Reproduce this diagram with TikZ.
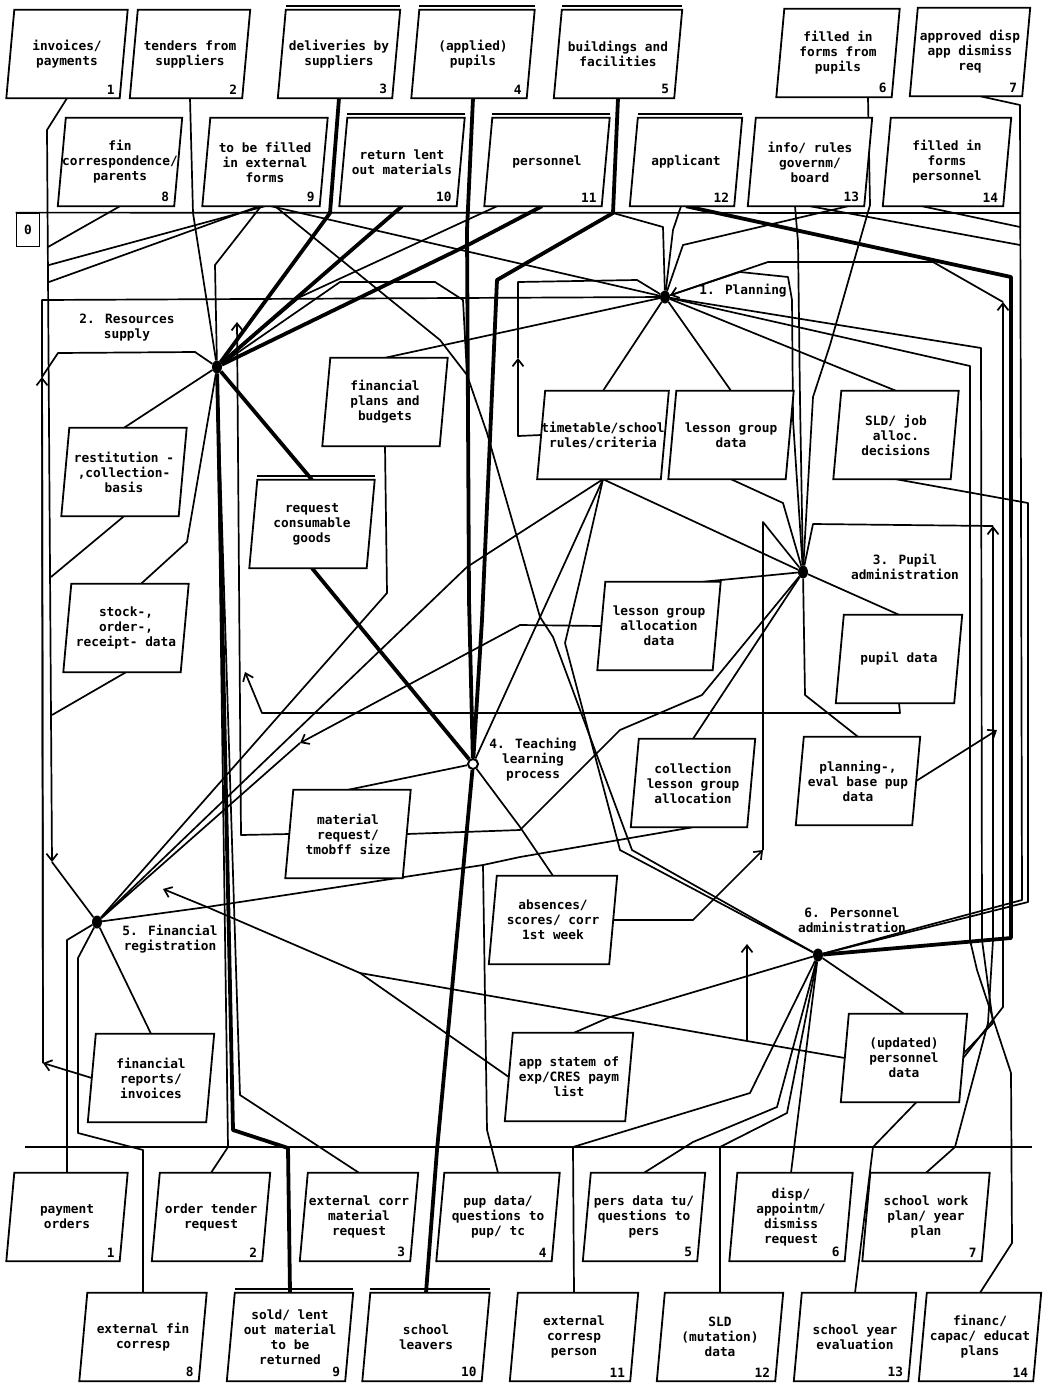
\documentclass[tikz,border=0pt]{standalone}
\usepackage{fontspec}
\newfontfamily\dfont{DejaVu Sans Mono}
\usetikzlibrary{arrows.meta}
\pgfdeclarelayer{bg}
\pgfdeclarelayer{boxes}
\pgfsetlayers{bg,boxes,main}
\tikzset{
  lbl/.style={font=\dfont\bfseries\fontsize{12.8}{15}\selectfont, align=center, inner sep=0pt},
  bx/.style={lbl, minimum height=88pt},
  ln/.style={line width=1.7pt, line join=round},
  thk/.style={line width=3.8pt, line join=round},
  arr/.style={-{Straight Barb[length=7pt,width=11pt]}},
  pdot/.style={ellipse, fill=black, inner sep=0pt, minimum width=10pt, minimum height=13pt},
  odot/.style={circle, draw=black, fill=white, line width=2pt, inner sep=0pt, minimum size=10pt},
}
\usetikzlibrary{shapes.geometric}
\newcommand\pbx[6]{%
  \node[bx, minimum width=#4pt] (#1) at (#2,#3) {#5};
  \begin{pgfonlayer}{boxes}
  \filldraw[fill=white, line width=1.8pt] ([xshift=4pt]#1.north west) -- ([xshift=4pt]#1.north east) -- ([xshift=-4pt]#1.south east) -- ([xshift=-4pt]#1.south west) -- cycle;
  \end{pgfonlayer}
  \node[lbl, anchor=south east] (#1n) at ([xshift=-9pt,yshift=4pt]#1.south east) {#6};
}
\newcommand\dtop[1]{\draw[line width=1.8pt] ([xshift=4pt,yshift=3.5pt]#1.north west) -- ([xshift=4pt,yshift=3.5pt]#1.north east);}
\begin{document}
\begin{tikzpicture}[x=1pt, y=-1pt]
\useasboundingbox (0,0) rectangle (1042,1387);
\begin{pgfonlayer}{bg}
\fill[white] (0,0) rectangle (1042,1387);
\end{pgfonlayer}

% top rows
\pbx{t1}{67}{54}{113}{invoices/\\payments}{1}
\pbx{t2}{190}{54}{112}{tenders from\\suppliers}{2}
\pbx{t3}{339}{54}{114}{deliveries by\\suppliers}{3}
\pbx{t4}{473}{54}{115}{(applied)\\pupils}{4}
\pbx{t5}{618}{54}{120}{buildings and\\facilities}{5}
\pbx{t6}{838}{53}{115}{filled in\\forms from\\pupils}{6}
\pbx{t7}{970}{52}{112}{approved disp\\app dismiss\\req}{7}
\pbx{t8}{120}{162}{116}{fin\\correspondence/\\parents}{8}
\pbx{t9}{265}{162}{117}{to be filled\\in external\\forms}{9}
\pbx{t10}{402}{162}{117}{return lent\\out materials}{10}
\pbx{t11}{547}{162}{117}{personnel}{11}
\pbx{t12}{686}{162}{104}{applicant}{12}
\pbx{t13}{810}{162}{116}{info/ rules\\governm/\\board}{13}
\pbx{t14}{947}{162}{120}{filled in\\forms\\personnel}{14}
\dtop{t3}\dtop{t4}\dtop{t5}\dtop{t10}\dtop{t11}\dtop{t12}

% middle data stores
\pbx{fpb}{385}{402}{117}{financial\\plans and\\budgets}{}
\pbx{rcb}{124}{472}{117}{restitution -\\,collection-\\basis}{}
\pbx{rcg}{312}{524}{117}{request\\consumable\\goods}{}
\pbx{sor}{126}{628}{117}{stock-,\\order-,\\receipt- data}{}
\pbx{mrq}{348}{834}{117}{material\\request/\\tmobff size}{}
\pbx{ttb}{603}{435}{117}{timetable/school\\rules/criteria}{}
\pbx{lgd}{731}{435}{117}{lesson group\\data}{}
\pbx{sld}{896}{435}{117}{SLD/ job\\alloc.\\decisions}{}
\pbx{lga}{659}{626}{115}{lesson group\\allocation\\data}{}
\pbx{pd}{899}{659}{118}{pupil data}{}
\pbx{clg}{693}{783}{116}{collection\\lesson group\\allocation}{}
\pbx{pev}{858}{781}{116}{planning-,\\eval base pup\\data}{}
\pbx{abs}{553}{920}{120}{absences/\\scores/ corr\\1st week}{}
\pbx{fri}{151}{1078}{118}{financial\\reports/\\invoices}{}
\pbx{aps}{569}{1077}{120}{app statem of\\exp/CRES paym\\list}{}
\pbx{upd}{904}{1058}{118}{(updated)\\personnel\\data}{}
\dtop{rcg}

% bottom rows
\pbx{b1}{67}{1217}{113}{payment\\orders}{1}
\pbx{b2}{211}{1217}{110}{order tender\\request}{2}
\pbx{b3}{359}{1217}{110}{external corr\\material\\request}{3}
\pbx{b4}{498}{1217}{115}{pup data/\\questions to\\pup/ tc}{4}
\pbx{b5}{644}{1217}{114}{pers data tu/\\questions to\\pers}{5}
\pbx{b6}{791}{1217}{115}{disp/\\appointm/\\dismiss\\request}{6}
\pbx{b7}{926}{1217}{119}{school work\\plan/ year\\plan}{7}
\pbx{b8}{143}{1337}{119}{external fin\\corresp}{8}
\pbx{b9}{290}{1337}{118}{sold/ lent\\out material\\to be\\returned}{9}
\pbx{b10}{426}{1337}{119}{school\\leavers}{10}
\pbx{b11}{574}{1337}{120}{external\\corresp\\person}{11}
\pbx{b12}{720}{1337}{118}{SLD\\(mutation)\\data}{12}
\pbx{b13}{855}{1337}{114}{school year\\evaluation}{13}
\pbx{b14}{980}{1337}{114}{financ/\\capac/ educat\\plans}{14}
\dtop{b9}\dtop{b10}

\node[draw, line width=1.8pt, lbl, minimum width=23pt, minimum height=33pt] (zero) at (28,230) {0};

% processes
\node[pdot] (p1) at (665,297) {};
\node[pdot] (p2) at (217,367) {};
\node[pdot] (p3) at (803,572) {};
\node[odot] (p4) at (473,764) {};
\node[pdot] (p5) at (97,922) {};
\node[pdot] (p6) at (818,955) {};
\node[lbl] (l1) at (743,291) {1. Planning};
\node[lbl] (l2) at (127,328) {2. Resources\\supply};
\node[lbl] (l3) at (905,567) {3. Pupil\\administration};
\node[lbl] (l4) at (533,760) {4. Teaching\\learning\\process};
\node[lbl] (l5) at (170,939) {5. Financial\\registration};
\node[lbl] (l6) at (852,920) {6. Personnel\\administration};

% named way points
\coordinate (aA) at (52,862);
\coordinate (aL1) at (43,1063);
\coordinate (aL2) at (42,377);
\coordinate (cL) at (42,300);
\coordinate (aM) at (237,322);
\coordinate (aP) at (245,672);
\coordinate (aQ) at (300,743);
\coordinate (aR) at (163,889);
\coordinate (aS) at (763,850);
\coordinate (aT) at (747,944);
\coordinate (jT) at (747,1041);
\coordinate (aU) at (997,730);
\coordinate (aV) at (993,526);
\coordinate (aW) at (1003,302);
\coordinate (aX) at (518,358);
\coordinate (j5) at (613,213);
\coordinate (jL1) at (48,247);
\coordinate (jL2) at (49,265);
\coordinate (jL3) at (49,282);
\coordinate (jL4) at (51,577);
\coordinate (jL5) at (52,715);
\coordinate (jB4) at (483,865);
\coordinate (jAp) at (360,973);
\coordinate (jM) at (467,375);
\coordinate (jR1) at (1020,227);
\coordinate (jR2) at (1020,245);
\coordinate (hR) at (1020,213);
\coordinate (hbL) at (25,1147);
\coordinate (hbR) at (1032,1147);

\begin{pgfonlayer}{bg}
\draw[ln] (zero.north west) -- (hR);
\draw[ln] (hbL) -- (hbR);
% top band
\draw[ln,arr] (t1.south) -- (47,130) -- (aA);
\draw[ln] (aA) -- (p5);
\draw[ln] (t2.south) -- (193,213) -- (p2);
\draw[ln] (t8.south) -- (jL1);
\draw[ln] (t9.south) -- (jL2);
\draw[ln] ([xshift=-6pt]t9.south) -- (jL3);
\draw[ln] ([xshift=-4pt]t9.south) -- (215,265) -- (p2);
\draw[ln] ([xshift=6pt]t9.south) -- (p1);
\draw[ln] ([xshift=10pt]t9.south) -- (440,340) -- (jM);
\draw[ln,arr] (ttb.west) -- (518,436) -- (aX);
\draw[ln] (aX) -- (518,282) -- (637,280) -- (p1);
\draw[thk] (t3.south) -- (330,213) -- (p2);
\draw[thk] (t10.south) -- (p2);
\draw[thk] ([xshift=-5pt]t11.south) -- (468,245) -- (p2);
\draw[ln] ([xshift=-50pt]t11.south) -- (300,297) -- (p2);
\draw[thk] (t5.south) -- (j5) -- (497,280) -- (482,620) -- (p4);
\draw[thk] (t4.south) -- (467,230) -- (469,600) -- (p4);
\draw[ln] (j5) -- (663,227) -- (p1);
\draw[ln] ([xshift=-5pt]t12.south) -- (673,230) -- (p1);
\draw[ln] ([xshift=-15pt]t13.south) -- (798,242) -- (800,400) -- (p3);
\draw[ln] (t13.south) -- (jR2);
\draw[ln] ([xshift=-25pt]t14.south) -- (jR1);
\draw[ln] ([xshift=30pt]t6.south) -- (870,205) -- (830,345) -- (813,397) -- (p3);
\draw[ln] ([xshift=10pt]t7.south) -- (1020,105) -- (1022,900) -- (910,930) -- (p6);
\draw[thk] (t12.south) -- (1011,277) -- (1011,938) -- (p6);
\draw[ln] (sld.south) -- (1028,503) -- (1028,902) -- (p6);
% planning
\draw[ln] (p1) -- (ttb.north);
\draw[ln] (p1) -- (lgd.north);
\draw[ln] (p1) -- (sld.north);
\draw[ln] (p1) -- (fpb.north);
\draw[ln,arr] (fri.west) -- (aL1);
\draw[ln] (aL1) -- (cL) -- (p1);
\draw[ln,arr] (aL1) -- (aL2);
\draw[ln] (aL2) -- (58,353) -- (195,352) -- (p2);
\draw[ln] (p1) -- (970,366) -- (970,940) -- (977,970) -- (1011,1073) -- (1012,1243) -- (b14.north);
\draw[ln] (p1) -- (981,348) -- (982,940) -- (993,1023) -- (873,1147) -- (b13.north);
\draw[ln,arr] (b7.north) -- (955,1147) -- (988,1023) -- (993,940) -- (aV);
\draw[ln] (aV) -- (813,524) -- (p3);
\draw[ln,arr] (upd.east) -- (1003,1007) -- (aW);
\draw[ln] (aW) -- (933,262) -- (768,262) -- (p1);
\draw[ln] (p1) -- (683,245) -- ([xshift=38pt]t13.south);
\draw[ln,arr] (p3) -- (793,420) -- (792,300) -- (788,277) -- (740,272) -- (p1);
% resources supply
\draw[thk] (p2) -- (rcg.north);
\draw[thk] (rcg.south) -- (p4);
\draw[ln] (p2) -- (rcb.north);
\draw[ln] (rcb.south) -- (jL4);
\draw[ln] (p2) -- (187,542) -- ([xshift=15pt]sor.north);
\draw[ln] (sor.south) -- (jL5);
\draw[thk] (p2) -- (233,1130) -- (288,1148) -- (b9.north);
\draw[ln] (p2) -- (228,1147) -- (b2.north);
\draw[ln] (p2) -- (240,1095) -- (b3.north);
\draw[ln] (p2) -- (340,282) -- (435,282) -- (463,300) -- (jM) -- (487,433) -- (540,617) -- (553,637) -- (632,850) -- (p6);
\draw[ln,arr] (mrq.west) -- (241,835) -- (aM);
\draw[ln,arr] (pd.south) -- (900,713) -- (262,713) -- (aP);
% teaching
\draw[ln] (p4) -- (mrq.north);
\draw[ln] (p4) -- (520,827) -- (abs.north);
\draw[thk] (p4) -- (437,1150) -- (b10.north);
\draw[ln] (ttb.south) -- (p3);
\draw[ln] (ttb.south) -- (p4);
\draw[ln] (ttb.south) -- (467,567) -- (p5);
\draw[ln] (ttb.south) -- (580,580) -- (565,643) -- (620,850) -- (p6);
% pupil administration
\draw[ln] (p3) -- (783,503) -- (lgd.south);
\draw[ln] (p3) -- (pd.north);
\draw[ln] (p3) -- (805,695) -- (pev.north);
\draw[ln] (p3) -- ([xshift=-14pt]lga.north east);
\draw[ln] (p3) -- (clg.north);
\draw[ln] (p3) -- (702,695) -- (620,730) -- (520,830) -- (mrq.east);
\draw[ln,arr] (abs.east) -- (693,920) -- (aS);
\draw[ln] (aS) -- (763,522) -- (p3);
\draw[ln,arr] (pev.east) -- (aU);
\draw[ln,arr] (lga.west) -- (520,625) -- (aQ);
\draw[ln] (aQ) -- (p5);
% financial registration
\draw[ln] (p5) -- (67,940) -- (b1.north);
\draw[ln] (p5) -- (78,958) -- (78,1133) -- (143,1150) -- (b8.north);
\draw[ln] (p5) -- (fri.north);
\draw[ln] (fpb.south) -- (387,593) -- (p5);
\draw[ln] (p5) -- (207,907) -- (jB4) -- (520,857) -- (clg.south);
\draw[ln] (jB4) -- (487,1130) -- (b4.north);
\draw[ln,arr] (upd.west) -- (jT) -- (jAp) -- (207,907) -- (aR);
\draw[ln] (aps.west) -- (jAp);
\draw[ln,arr] (jT) -- (aT);
% personnel administration
\draw[ln] (p6) -- (upd.north);
\draw[ln] (p6) -- (610,1017) -- ([xshift=5pt]aps.north);
\draw[ln] (p6) -- (750,1093) -- (573,1147) -- (b11.north);
\draw[ln] (p6) -- (777,1107) -- (693,1142) -- (b5.north);
\draw[ln] (p6) -- (787,1113) -- (720,1147) -- (b12.north);
\draw[ln] (p6) -- (b6.north);
\end{pgfonlayer}
\end{tikzpicture}
\end{document}
